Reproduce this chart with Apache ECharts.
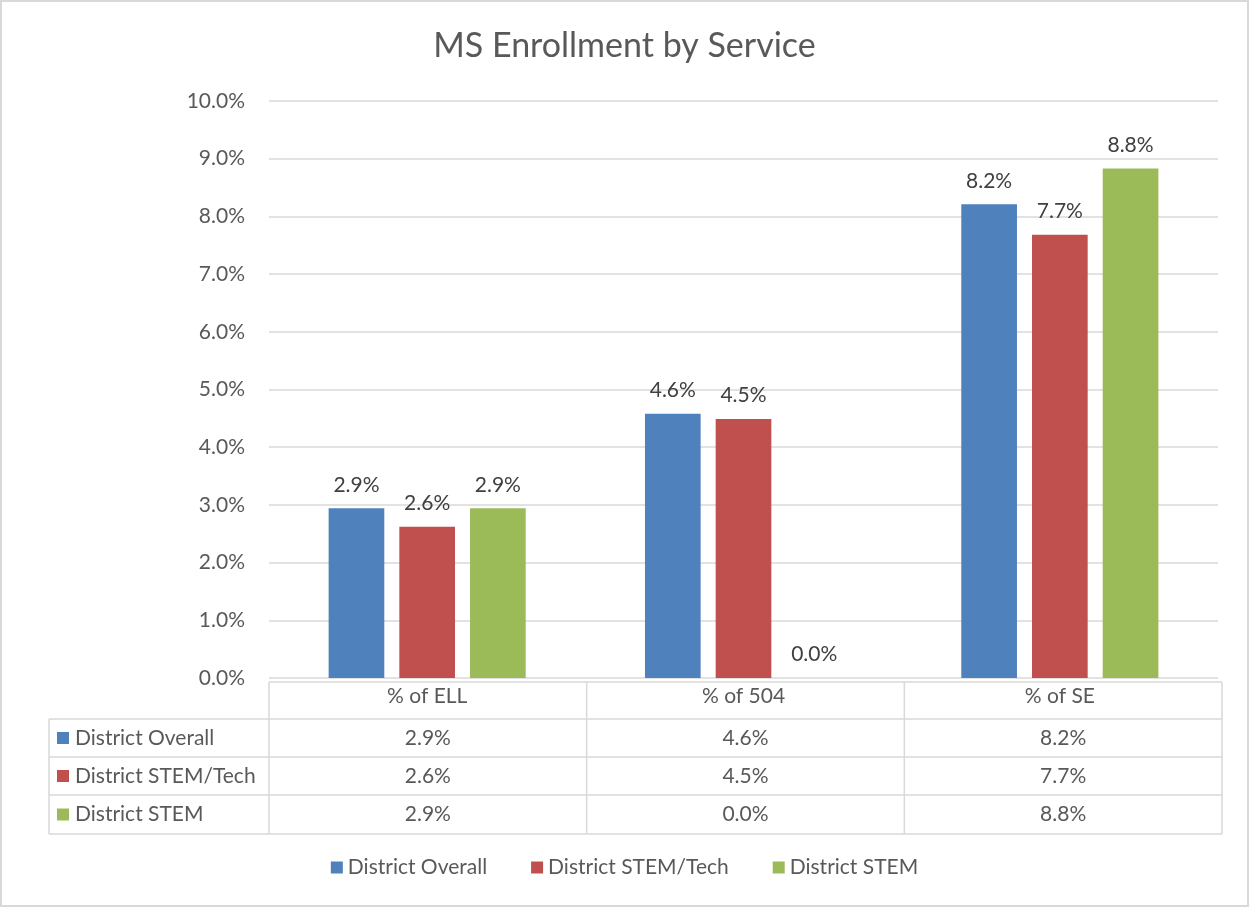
<!DOCTYPE html>
<html><head><meta charset="utf-8">
<script src="https://cdn.jsdelivr.net/npm/echarts@6/dist/echarts.min.js"></script>
<style>html,body{margin:0;padding:0;background:#fff}#c{width:1249px;height:907px;box-sizing:border-box;border:2px solid #d9d9d9}</style>
</head><body><div id="c"></div>
<script>
const title = 'MS Enrollment by Service';
const categories = ['% of ELL', '% of 504', '% of SE'];
const seriesNames = ['District Overall', 'District STEM/Tech', 'District STEM'];
const overall = [2.94, 4.58, 8.21];
const stemTech = [2.62, 4.49, 7.68];
const stem = [2.94, 0.0, 8.83];
const colors = ['#4f81bd', '#c0504d', '#9bbb59'];
const yTicks = { min: 0, max: 10, interval: 1 };

const FONT = 'Lato';
const FS = 21;
const TXT = '#595959';
const LINE = '#d9d9d9';
const G = { left: 267, right: 29, top: 99, bottom: 227 };
const W = 1249, H = 907;
const allSeries = [overall, stemTech, stem];
const fmt = v => v.toFixed(1) + '%';

const chart = echarts.init(document.getElementById('c'), null, { renderer: 'canvas' });

const x0 = G.left, x1 = W - G.right, yAxisY = H - G.bottom;
const colW = (x1 - x0) / categories.length;
const rowYs = [yAxisY, 717, 755, 793, 832];
const graphics = [];
const ls = { stroke: LINE, lineWidth: 1.5 };
graphics.push({ type: 'line', shape: { x1: x0, y1: rowYs[0], x2: x1, y2: rowYs[0] }, style: ls });
for (let i = 1; i < rowYs.length; i++) {
  graphics.push({ type: 'line', shape: { x1: 47, y1: rowYs[i], x2: x1, y2: rowYs[i] }, style: ls });
}
graphics.push({ type: 'line', shape: { x1: 47, y1: rowYs[1], x2: 47, y2: rowYs[4] }, style: ls });
for (let c = 0; c <= categories.length; c++) {
  const x = x0 + c * colW;
  graphics.push({ type: 'line', shape: { x1: x, y1: rowYs[0], x2: x, y2: rowYs[4] }, style: ls });
}
seriesNames.forEach((name, r) => {
  const cy = (rowYs[r + 1] + rowYs[r + 2]) / 2;
  graphics.push({ type: 'rect', shape: { x: 55, y: cy - 6, width: 12, height: 12 }, style: { fill: colors[r] } });
  graphics.push({ type: 'text', x: 73, y: cy, style: { text: name, fill: TXT, font: FS + 'px ' + FONT, textVerticalAlign: 'middle', textAlign: 'left' } });
  allSeries[r].forEach((v, c) => {
    graphics.push({ type: 'text', x: x0 + (c + 0.5) * colW, y: cy, style: { text: fmt(v), fill: TXT, font: FS + 'px ' + FONT, textVerticalAlign: 'middle', textAlign: 'center' } });
  });
});

chart.setOption({
  animation: false,
  textStyle: { fontFamily: FONT },
  title: { text: title, left: 'center', top: 22, textStyle: { fontFamily: FONT, fontSize: 34, fontWeight: 'normal', color: TXT } },
  legend: {
    bottom: 22, left: 'center', icon: 'rect', itemWidth: 12, itemHeight: 12, itemGap: 44,
    textStyle: { fontFamily: FONT, fontSize: FS, color: TXT },
    data: seriesNames
  },
  grid: { left: G.left, right: G.right, top: G.top, bottom: G.bottom, containLabel: false },
  xAxis: {
    type: 'category', data: categories,
    axisLine: { show: false }, axisTick: { show: false },
    axisLabel: { fontFamily: FONT, fontSize: FS, color: TXT, margin: 8 }
  },
  yAxis: {
    type: 'value', min: yTicks.min, max: yTicks.max, interval: yTicks.interval,
    axisLine: { show: false }, axisTick: { show: false },
    axisLabel: { fontFamily: FONT, fontSize: FS, color: TXT, margin: 24, formatter: v => fmt(v) },
    splitLine: { lineStyle: { color: LINE, width: 1.5 } }
  },
  series: seriesNames.map((n, i) => ({
    name: n, type: 'bar', data: allSeries[i], barGap: '27%', barCategoryGap: '37.7%',
    itemStyle: { color: colors[i] },
    label: { show: true, position: 'top', distance: 13, fontFamily: FONT, fontSize: FS, color: '#404040', formatter: p => fmt(p.value) }
  })),
  graphic: graphics
});
</script></body></html>
